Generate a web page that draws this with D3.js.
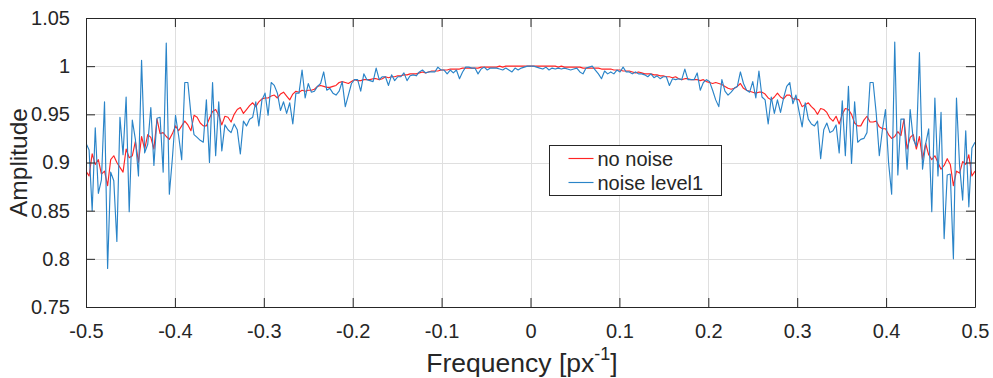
<!DOCTYPE html>
<html>
<head>
<meta charset="utf-8">
<script src="https://cdn.jsdelivr.net/npm/d3@7"></script>
<style>
  body { margin: 0; background: #ffffff; }
  svg text { font-family: "Liberation Sans", Arial, Helvetica, sans-serif; fill: #262626; }
</style>
</head>
<body>
<svg id="chart" width="993" height="378"></svg>
<script>
// Spectrum samples: bin k sits at frequency k / BINS, k = K_MIN .. K_MAX
const BINS = 288;
const K_MIN = -144;
const K_MAX = 144;

// Spectrum amplitude without noise
const noNoise = [
  0.891,0.886,0.909,0.898,0.903,0.888,0.891,0.876,0.903,0.907,
  0.900,0.895,0.890,0.914,0.905,0.907,0.922,0.900,0.927,0.914,
  0.929,0.926,0.914,0.945,0.930,0.931,0.927,0.924,0.930,0.938,
  0.933,0.938,0.943,0.939,0.933,0.949,0.947,0.941,0.938,0.938,
  0.946,0.953,0.955,0.949,0.939,0.948,0.947,0.942,0.950,0.955,
  0.957,0.951,0.955,0.959,0.962,0.958,0.963,0.966,0.967,0.967,
  0.969,0.970,0.967,0.971,0.973,0.969,0.965,0.971,0.974,0.973,
  0.975,0.974,0.975,0.975,0.976,0.979,0.980,0.979,0.978,0.978,
  0.979,0.980,0.983,0.984,0.983,0.982,0.984,0.986,0.985,0.985,
  0.986,0.986,0.986,0.987,0.987,0.986,0.987,0.989,0.988,0.989,
  0.989,0.990,0.990,0.991,0.991,0.992,0.992,0.992,0.993,0.994,
  0.993,0.994,0.995,0.995,0.995,0.996,0.996,0.996,0.997,0.997,
  0.997,0.997,0.998,0.998,0.998,0.998,0.998,0.998,0.999,0.999,
  0.999,0.999,0.999,0.999,1.000,0.999,1.000,1.000,1.000,1.000,
  1.000,1.000,1.000,1.000,
  1.000,
  1.000,1.000,1.000,1.000,1.000,1.000,1.000,1.000,0.999,1.000,
  0.999,0.999,0.999,0.999,0.999,0.999,0.998,0.998,0.998,0.998,
  0.998,0.998,0.997,0.997,0.997,0.997,0.996,0.996,0.996,0.995,
  0.995,0.995,0.994,0.993,0.994,0.993,0.992,0.992,0.992,0.991,
  0.991,0.990,0.990,0.989,0.989,0.988,0.989,0.987,0.986,0.987,
  0.987,0.986,0.986,0.986,0.985,0.986,0.984,0.983,0.982,0.983,
  0.982,0.981,0.979,0.977,0.976,0.977,0.979,0.982,0.977,0.975,
  0.974,0.973,0.972,0.973,0.973,0.971,0.967,0.965,0.968,0.972,
  0.968,0.966,0.970,0.970,0.966,0.966,0.965,0.958,0.960,0.962,
  0.958,0.955,0.950,0.956,0.955,0.952,0.946,0.943,0.948,0.940,
  0.950,0.956,0.955,0.950,0.941,0.938,0.938,0.944,0.948,0.942,
  0.942,0.943,0.937,0.935,0.935,0.929,0.925,0.927,0.932,0.928,
  0.945,0.914,0.926,0.929,0.914,0.927,0.903,0.920,0.908,0.903,
  0.907,0.900,0.893,0.897,0.904,0.898,0.876,0.891,0.889,0.901,
  0.898,0.908,0.886,0.891
];

// Spectrum amplitude with noise level 1
const noiseLevel1 = [
  0.920,0.913,0.850,0.936,0.868,0.882,0.963,0.790,0.890,0.881,
  0.818,0.947,0.908,0.968,0.849,0.944,0.924,0.886,1.006,0.910,
  0.919,0.957,0.897,0.946,0.947,0.890,1.024,0.867,0.905,0.949,
  0.928,0.903,0.983,0.983,0.950,0.929,0.926,0.923,0.921,0.965,
  0.900,0.983,0.907,0.963,0.912,0.939,0.934,0.931,0.940,0.934,
  0.909,0.943,0.938,0.945,0.947,0.963,0.938,0.965,0.972,0.949,
  0.983,0.980,0.972,0.954,0.963,0.951,0.962,0.940,0.972,0.972,
  0.996,0.967,0.982,0.973,0.974,0.979,0.982,0.994,0.975,0.977,
  0.972,0.970,0.974,0.984,0.958,0.970,0.982,0.986,0.986,0.974,
  0.992,0.986,0.985,0.984,0.998,0.986,0.989,0.989,0.980,0.991,
  0.985,0.989,0.989,0.993,0.985,0.990,0.991,0.990,0.994,0.996,
  0.993,0.994,0.994,0.994,0.999,0.996,0.996,0.992,0.996,0.993,
  0.996,0.987,0.994,0.999,0.999,0.998,0.998,0.992,0.997,0.999,
  0.996,0.998,0.998,0.998,0.997,0.996,0.998,0.996,0.994,0.998,
  0.996,0.998,0.999,1.000,
  1.000,
  1.000,0.999,0.998,0.997,0.999,0.996,0.998,0.997,0.998,0.997,
  0.998,0.997,0.996,0.997,0.998,0.994,0.992,0.998,0.999,1.000,
  0.996,0.992,0.987,0.995,0.992,0.994,0.992,0.996,0.994,0.999,
  0.994,0.994,0.992,0.994,0.992,0.992,0.991,0.989,0.992,0.988,
  0.990,0.987,0.989,0.989,0.980,0.987,0.986,0.987,0.986,0.997,
  0.986,0.986,0.986,0.993,0.975,0.983,0.986,0.984,0.975,0.965,
  0.958,0.986,0.974,0.970,0.973,0.977,0.979,0.994,0.982,0.975,
  0.973,0.984,0.967,0.995,0.968,0.965,0.940,0.968,0.951,0.965,
  0.952,0.967,0.979,0.983,0.961,0.970,0.953,0.937,0.962,0.945,
  0.940,0.938,0.943,0.904,0.934,0.941,0.931,0.933,0.939,0.910,
  0.964,0.907,0.979,0.899,0.963,0.921,0.924,0.925,0.931,0.983,
  0.983,0.951,0.907,0.934,0.955,0.900,0.867,1.025,0.887,0.945,
  0.945,0.893,0.955,0.924,0.917,1.014,0.893,0.919,0.935,0.849,
  0.967,0.886,0.952,0.821,0.887,0.888,0.800,0.967,0.897,0.861,
  0.933,0.854,0.915,0.921
];

const xTicks = [-0.5, -0.4, -0.3, -0.2, -0.1, 0, 0.1, 0.2, 0.3, 0.4, 0.5];
const xTickLabels = ["-0.5", "-0.4", "-0.3", "-0.2", "-0.1", "0", "0.1", "0.2", "0.3", "0.4", "0.5"];
const yTicks = [0.75, 0.8, 0.85, 0.9, 0.95, 1, 1.05];
const yTickLabels = ["0.75", "0.8", "0.85", "0.9", "0.95", "1", "1.05"];

const seriesNames = ["no noise", "noise level1"];
const seriesColors = ["#ff2424", "#2a84c8"];

// Frequency of every bin
const freq = d3.range(K_MIN, K_MAX + 1).map(k => k / BINS);

const svg = d3.select("#chart");
const plot = { left: 86, right: 975, top: 18, bottom: 307 };

const x = d3.scaleLinear().domain([-0.5, 0.5]).range([plot.left, plot.right]);
const y = d3.scaleLinear().domain([0.75, 1.05]).range([plot.bottom, plot.top]);

const axisColor = "#262626";
const tickLen = 9;

// Grid
const grid = svg.append("g");
grid.selectAll("line.gx").data(xTicks).join("line")
  .attr("x1", d => Math.round(x(d)) + 0.5).attr("x2", d => Math.round(x(d)) + 0.5)
  .attr("y1", plot.top).attr("y2", plot.bottom)
  .attr("stroke", "#dfdfdf").attr("stroke-width", 1);
grid.selectAll("line.gy").data(yTicks).join("line")
  .attr("y1", d => Math.round(y(d)) + 0.5).attr("y2", d => Math.round(y(d)) + 0.5)
  .attr("x1", plot.left).attr("x2", plot.right)
  .attr("stroke", "#dfdfdf").attr("stroke-width", 1);

// Data lines
svg.append("clipPath").attr("id", "plotClip").append("rect")
  .attr("x", plot.left).attr("y", plot.top)
  .attr("width", plot.right - plot.left).attr("height", plot.bottom - plot.top);

const line = d3.line().x((d, i) => x(freq[i])).y(d => y(d));
const lines = svg.append("g").attr("clip-path", "url(#plotClip)");
[noNoise, noiseLevel1].forEach((vals, s) => {
  lines.append("path").datum(vals)
    .attr("d", line)
    .attr("fill", "none")
    .attr("stroke", seriesColors[s])
    .attr("stroke-width", 1.15)
    .attr("stroke-linejoin", "round");
});

// Axes with inward ticks on all four sides
const fmtX = (d, i) => xTickLabels[i];
const fmtY = (d, i) => yTickLabels[i];

const axB = svg.append("g").attr("transform", `translate(0,${plot.bottom})`)
  .call(d3.axisBottom(x).tickValues(xTicks).tickFormat(fmtX).tickSizeInner(-tickLen).tickSizeOuter(0).tickPadding(tickLen + 8));
const axT = svg.append("g").attr("transform", `translate(0,${plot.top})`)
  .call(d3.axisTop(x).tickValues(xTicks).tickFormat("").tickSizeInner(-tickLen).tickSizeOuter(0));
const axL = svg.append("g").attr("transform", `translate(${plot.left},0)`)
  .call(d3.axisLeft(y).tickValues(yTicks).tickFormat(fmtY).tickSizeInner(-tickLen).tickSizeOuter(0).tickPadding(tickLen + 7));
const axR = svg.append("g").attr("transform", `translate(${plot.right},0)`)
  .call(d3.axisRight(y).tickValues(yTicks).tickFormat("").tickSizeInner(-tickLen).tickSizeOuter(0));

[axB, axT, axL, axR].forEach(g => {
  g.select(".domain").attr("stroke", axisColor).attr("stroke-width", 1);
  g.selectAll(".tick line").attr("stroke", axisColor).attr("stroke-width", 1);
  g.selectAll("text").attr("fill", axisColor).style("font-size", "20px")
    .style("font-family", '"Liberation Sans", Arial, sans-serif');
});
axB.selectAll("text").attr("dy", "0.71em");

// Axis titles
const xTitle = svg.append("text")
  .attr("x", 522).attr("y", 372)
  .attr("text-anchor", "middle").style("font-size", "26.5px");
xTitle.append("tspan").text("Frequency [px");
xTitle.append("tspan").attr("dy", -12).style("font-size", "18px").text("-1");
xTitle.append("tspan").attr("dy", 12).text("]");

svg.append("text")
  .attr("transform", `translate(27,${(plot.top + plot.bottom) / 2}) rotate(-90)`)
  .attr("text-anchor", "middle").style("font-size", "24.5px")
  .text("Amplitude");

// Legend
const legend = svg.append("g").attr("transform", "translate(549.5,145.5)");
legend.append("rect").attr("width", 172).attr("height", 50)
  .attr("fill", "#ffffff").attr("stroke", axisColor).attr("stroke-width", 1);
seriesNames.forEach((name, i) => {
  const yy = 13 + i * 24;
  legend.append("line").attr("x1", 19).attr("x2", 44).attr("y1", yy).attr("y2", yy)
    .attr("stroke", seriesColors[i]).attr("stroke-width", 1.15);
  legend.append("text").attr("x", 48).attr("y", yy).attr("dy", "0.35em")
    .style("font-size", "20px").text(name);
});
</script>
</body>
</html>
